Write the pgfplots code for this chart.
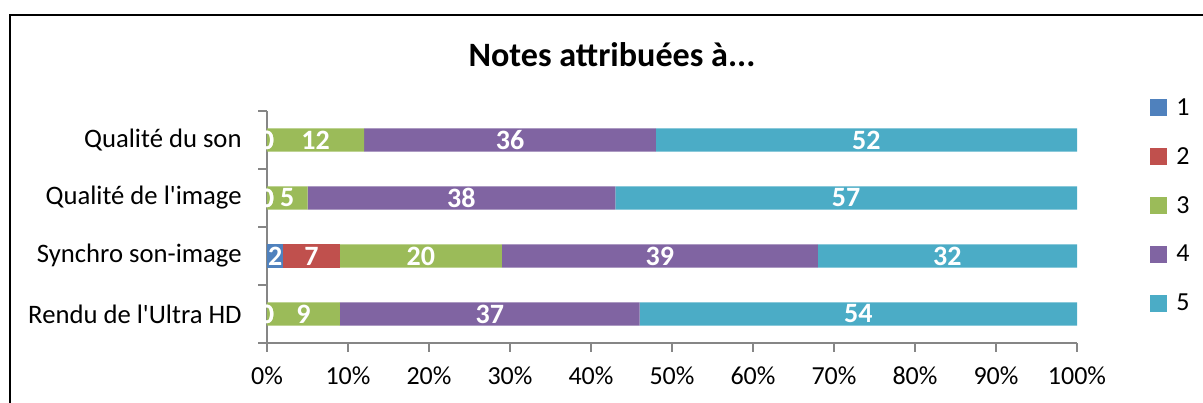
\documentclass[border=0pt]{standalone}
\usepackage{fontspec}
\setmainfont{Carlito}
\usepackage{pgfplots}
\usepackage{pgfplotstable}
\pgfplotsset{compat=1.18}
\definecolor{c1}{HTML}{4F81BD}
\definecolor{c2}{HTML}{C0504D}
\definecolor{c3}{HTML}{9BBB59}
\definecolor{c4}{HTML}{8064A2}
\definecolor{c5}{HTML}{4BACC6}
\definecolor{axgray}{HTML}{868686}
\pgfplotstableread{
y v1 v2 v3 v4 v5
0 0 0 9 37 54
1 2 7 20 39 32
2 0 0 5 38 57
3 0 0 12 36 52
}\data
% label positions (segment centres) and label texts
\pgfplotstableread{
x y lab
0 0 0
0 0 0
4.5 0 9
27.5 0 37
73 0 54
1 1 2
5.5 1 7
19 1 20
48.5 1 39
84 1 32
0 2 0
0 2 0
2.5 2 5
24 2 38
71.5 2 57
0 3 0
0 3 0
6 3 12
30 3 36
74 3 52
}\labels
\pgfplotsset{
  geom/.style={
    at={(200.25pt,45pt)}, anchor=south west,
    scale only axis, width=607.5pt, height=174pt,
    xmin=0, xmax=100, ymin=-0.5, ymax=3.5,
    enlargelimits=false, clip=false,
  }
}
\begin{document}
\begin{tikzpicture}
\useasboundingbox (0,0) rectangle (902.25pt,302.25pt);
\draw[line width=0.9pt] (7.5pt,0) -- (7.5pt,291pt) -- (903pt,291pt);
\node[font=\fontsize{25.6pt}{30pt}\selectfont\bfseries] at (459pt,261.5pt) {Notes attribuées à...};
\begin{axis}[
  geom, xbar stacked, bar width=0.4,
  axis x line*=bottom, axis y line*=left,
  axis line style={draw=axgray, line width=0.9pt},
  tick style={draw=axgray, line width=0.9pt},
  tick align=outside,
  major tick length=6.5pt,
  xtick={0,10,...,100},
  xticklabel={\pgfmathprintnumber{\tick}\%},
  xticklabel style={yshift=-8pt},
  ytick={-0.5,0.5,1.5,2.5,3.5},
  yticklabels=\empty,
  extra y ticks={0,1,2,3},
  extra y tick labels={Rendu de l\textquotesingle Ultra HD, Synchro son-image, Qualité de l\textquotesingle image, Qualité du son},
  extra y tick style={tick style={draw=none}, yticklabel style={xshift=-9pt, font=\fontsize{20pt}{24pt}\selectfont}},
  /pgf/number format/assume math mode=true,
  tick label style={font=\fontsize{19.5pt}{23pt}\selectfont},
  legend style={at={(1.0901,1.056)}, anchor=north west, draw=none, fill=none,
    inner sep=0pt, row sep=22.6pt, column sep=6.75pt,
    font=\fontsize{19.5pt}{23pt}\selectfont,
    nodes={inner sep=0pt}},
  legend cell align=left,
  legend image code/.code={\fill[#1] (0pt,-6.375pt) rectangle (12.75pt,6.375pt);},
]
\addplot[fill=c1, draw=none] table[x=v1, y=y] {\data};
\addplot[fill=c2, draw=none] table[x=v2, y=y] {\data};
\addplot[fill=c3, draw=none] table[x=v3, y=y] {\data};
\addplot[fill=c4, draw=none] table[x=v4, y=y] {\data};
\addplot[fill=c5, draw=none] table[x=v5, y=y] {\data};
\legend{1,2,3,4,5}
\end{axis}
\begin{axis}[geom, hide axis]
\addplot[draw=none, mark=none, nodes near coords, point meta=explicit symbolic,
  nodes near coords style={anchor=center, text=white, inner sep=0pt,
    font=\fontsize{21pt}{25pt}\selectfont\bfseries}]
  table[x=x, y=y, meta=lab] {\labels};
\end{axis}
\end{tikzpicture}
\end{document}
